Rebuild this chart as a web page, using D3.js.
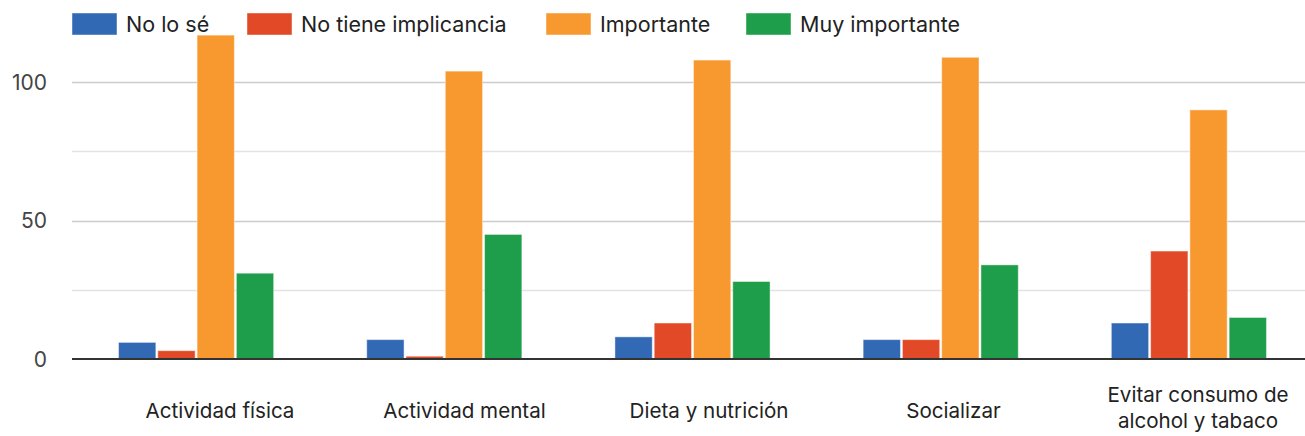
<!DOCTYPE html>
<html>
<head>
<meta charset="utf-8">
<script src="https://cdn.jsdelivr.net/npm/d3@7"></script>
<style>
  html, body { margin: 0; padding: 0; background: #fff; }
  svg { display: block; font-family: Inter, "Liberation Sans", Arial, sans-serif; }
</style>
</head>
<body>
<svg id="chart" width="1305" height="436"></svg>
<script>
// Activities and how respondents rate each one
const categories = [
  "Actividad física",
  "Actividad mental",
  "Dieta y nutrición",
  "Socializar",
  "Evitar consumo de alcohol y tabaco"
];
const categoryLines = [
  ["Actividad física"],
  ["Actividad mental"],
  ["Dieta y nutrición"],
  ["Socializar"],
  ["Evitar consumo de", "alcohol y tabaco"]
];
const seriesNames = ["No lo sé", "No tiene implicancia", "Importante", "Muy importante"];
const noLoSe          = [6, 7, 8, 7, 13];
const noTieneImplic   = [3, 1, 13, 7, 39];
const importante      = [117, 104, 108, 109, 90];
const muyImportante   = [31, 45, 28, 34, 15];
const seriesValues = [noLoSe, noTieneImplic, importante, muyImportante];
const yTicks = [0, 50, 100];
const yMinorTicks = [25, 75];

const colors = ["#3169b5", "#e24a27", "#f8992f", "#1e9e4a"];

const svg = d3.select("#chart");
const plot = { left: 72, right: 1313, top: 13, bottom: 359 };

const y = d3.scaleLinear().domain([0, 125]).range([plot.bottom, plot.top]);

const x0 = d3.scaleBand()
  .domain(categories)
  .range([plot.left, plot.right])
  .paddingInner(0.375)
  .paddingOuter(0.1875);

const x1 = d3.scaleBand()
  .domain(seriesNames)
  .range([0, x0.bandwidth()])
  .paddingInner(0.05);

// category labels sit on their own point scale
const xLabel = d3.scalePoint().domain(categories).range([220, 1198]);

const color = d3.scaleOrdinal().domain(seriesNames).range(colors);

// gridlines
svg.append("g")
  .selectAll("line.minor")
  .data(yMinorTicks)
  .join("line")
  .attr("x1", plot.left).attr("x2", 1305)
  .attr("y1", d => Math.round(y(d)) + 0.5).attr("y2", d => Math.round(y(d)) + 0.5)
  .attr("stroke", "#e3e3e3").attr("stroke-width", 1.5);

svg.append("g")
  .selectAll("line.major")
  .data(yTicks.filter(t => t > 0))
  .join("line")
  .attr("x1", plot.left).attr("x2", 1305)
  .attr("y1", d => Math.round(y(d)) + 0.5).attr("y2", d => Math.round(y(d)) + 0.5)
  .attr("stroke", "#cccccc").attr("stroke-width", 1.5);

// y axis labels
const yAxis = d3.axisLeft(y).tickValues(yTicks).tickSize(0).tickPadding(0);
const yg = svg.append("g")
  .attr("transform", `translate(${plot.left - 25},0)`)
  .call(yAxis);
yg.select(".domain").remove();
yg.selectAll("text")
  .attr("font-size", 21)
  .attr("font-family", "Inter, 'Liberation Sans', Arial, sans-serif")
  .attr("fill", "#444")
  .attr("dy", "0.35em");

// bars
const groups = svg.append("g")
  .selectAll("g")
  .data(categories)
  .join("g")
  .attr("transform", d => `translate(${x0(d)},0)`);

groups.selectAll("rect")
  .data((d, i) => seriesNames.map((s, k) => ({ s, v: seriesValues[k][i] })))
  .join("rect")
  .attr("x", d => x1(d.s))
  .attr("width", x1.bandwidth())
  .attr("y", d => y(d.v))
  .attr("height", d => y(0) - y(d.v))
  .attr("fill", d => color(d.s))
  .attr("stroke", "#ffffff")
  .attr("stroke-opacity", 0.45)
  .attr("stroke-width", 1);

// baseline
svg.append("line")
  .attr("x1", plot.left).attr("x2", 1305)
  .attr("y1", y(0)).attr("y2", y(0))
  .attr("stroke", "#333").attr("stroke-width", 2);

// category labels
const lab = svg.append("g")
  .selectAll("text")
  .data(categories)
  .join("text")
  .attr("x", d => xLabel(d))
  .attr("text-anchor", "middle")
  .attr("font-size", 20.6)
  .attr("fill", "#222");
lab.each(function(d, i) {
  const lines = categoryLines[i];
  const t = d3.select(this);
  const baseY = lines.length === 1 ? 418 : 402;
  lines.forEach((ln, j) => {
    t.append("tspan").attr("x", xLabel(d)).attr("y", baseY + j * 26).text(ln);
  });
});

// legend
const legendX = [72, 247, 546, 746];
const legend = svg.append("g")
  .selectAll("g")
  .data(seriesNames)
  .join("g")
  .attr("transform", (d, i) => `translate(${legendX[i]},13)`);
legend.append("rect")
  .attr("width", 45).attr("height", 22)
  .attr("fill", d => color(d))
  .attr("stroke", "#fff").attr("stroke-opacity", 0.45);
legend.append("text")
  .attr("x", 54).attr("y", 19)
  .attr("font-size", 21.5)
  .attr("fill", "#222")
  .text(d => d);
</script>
</body>
</html>
